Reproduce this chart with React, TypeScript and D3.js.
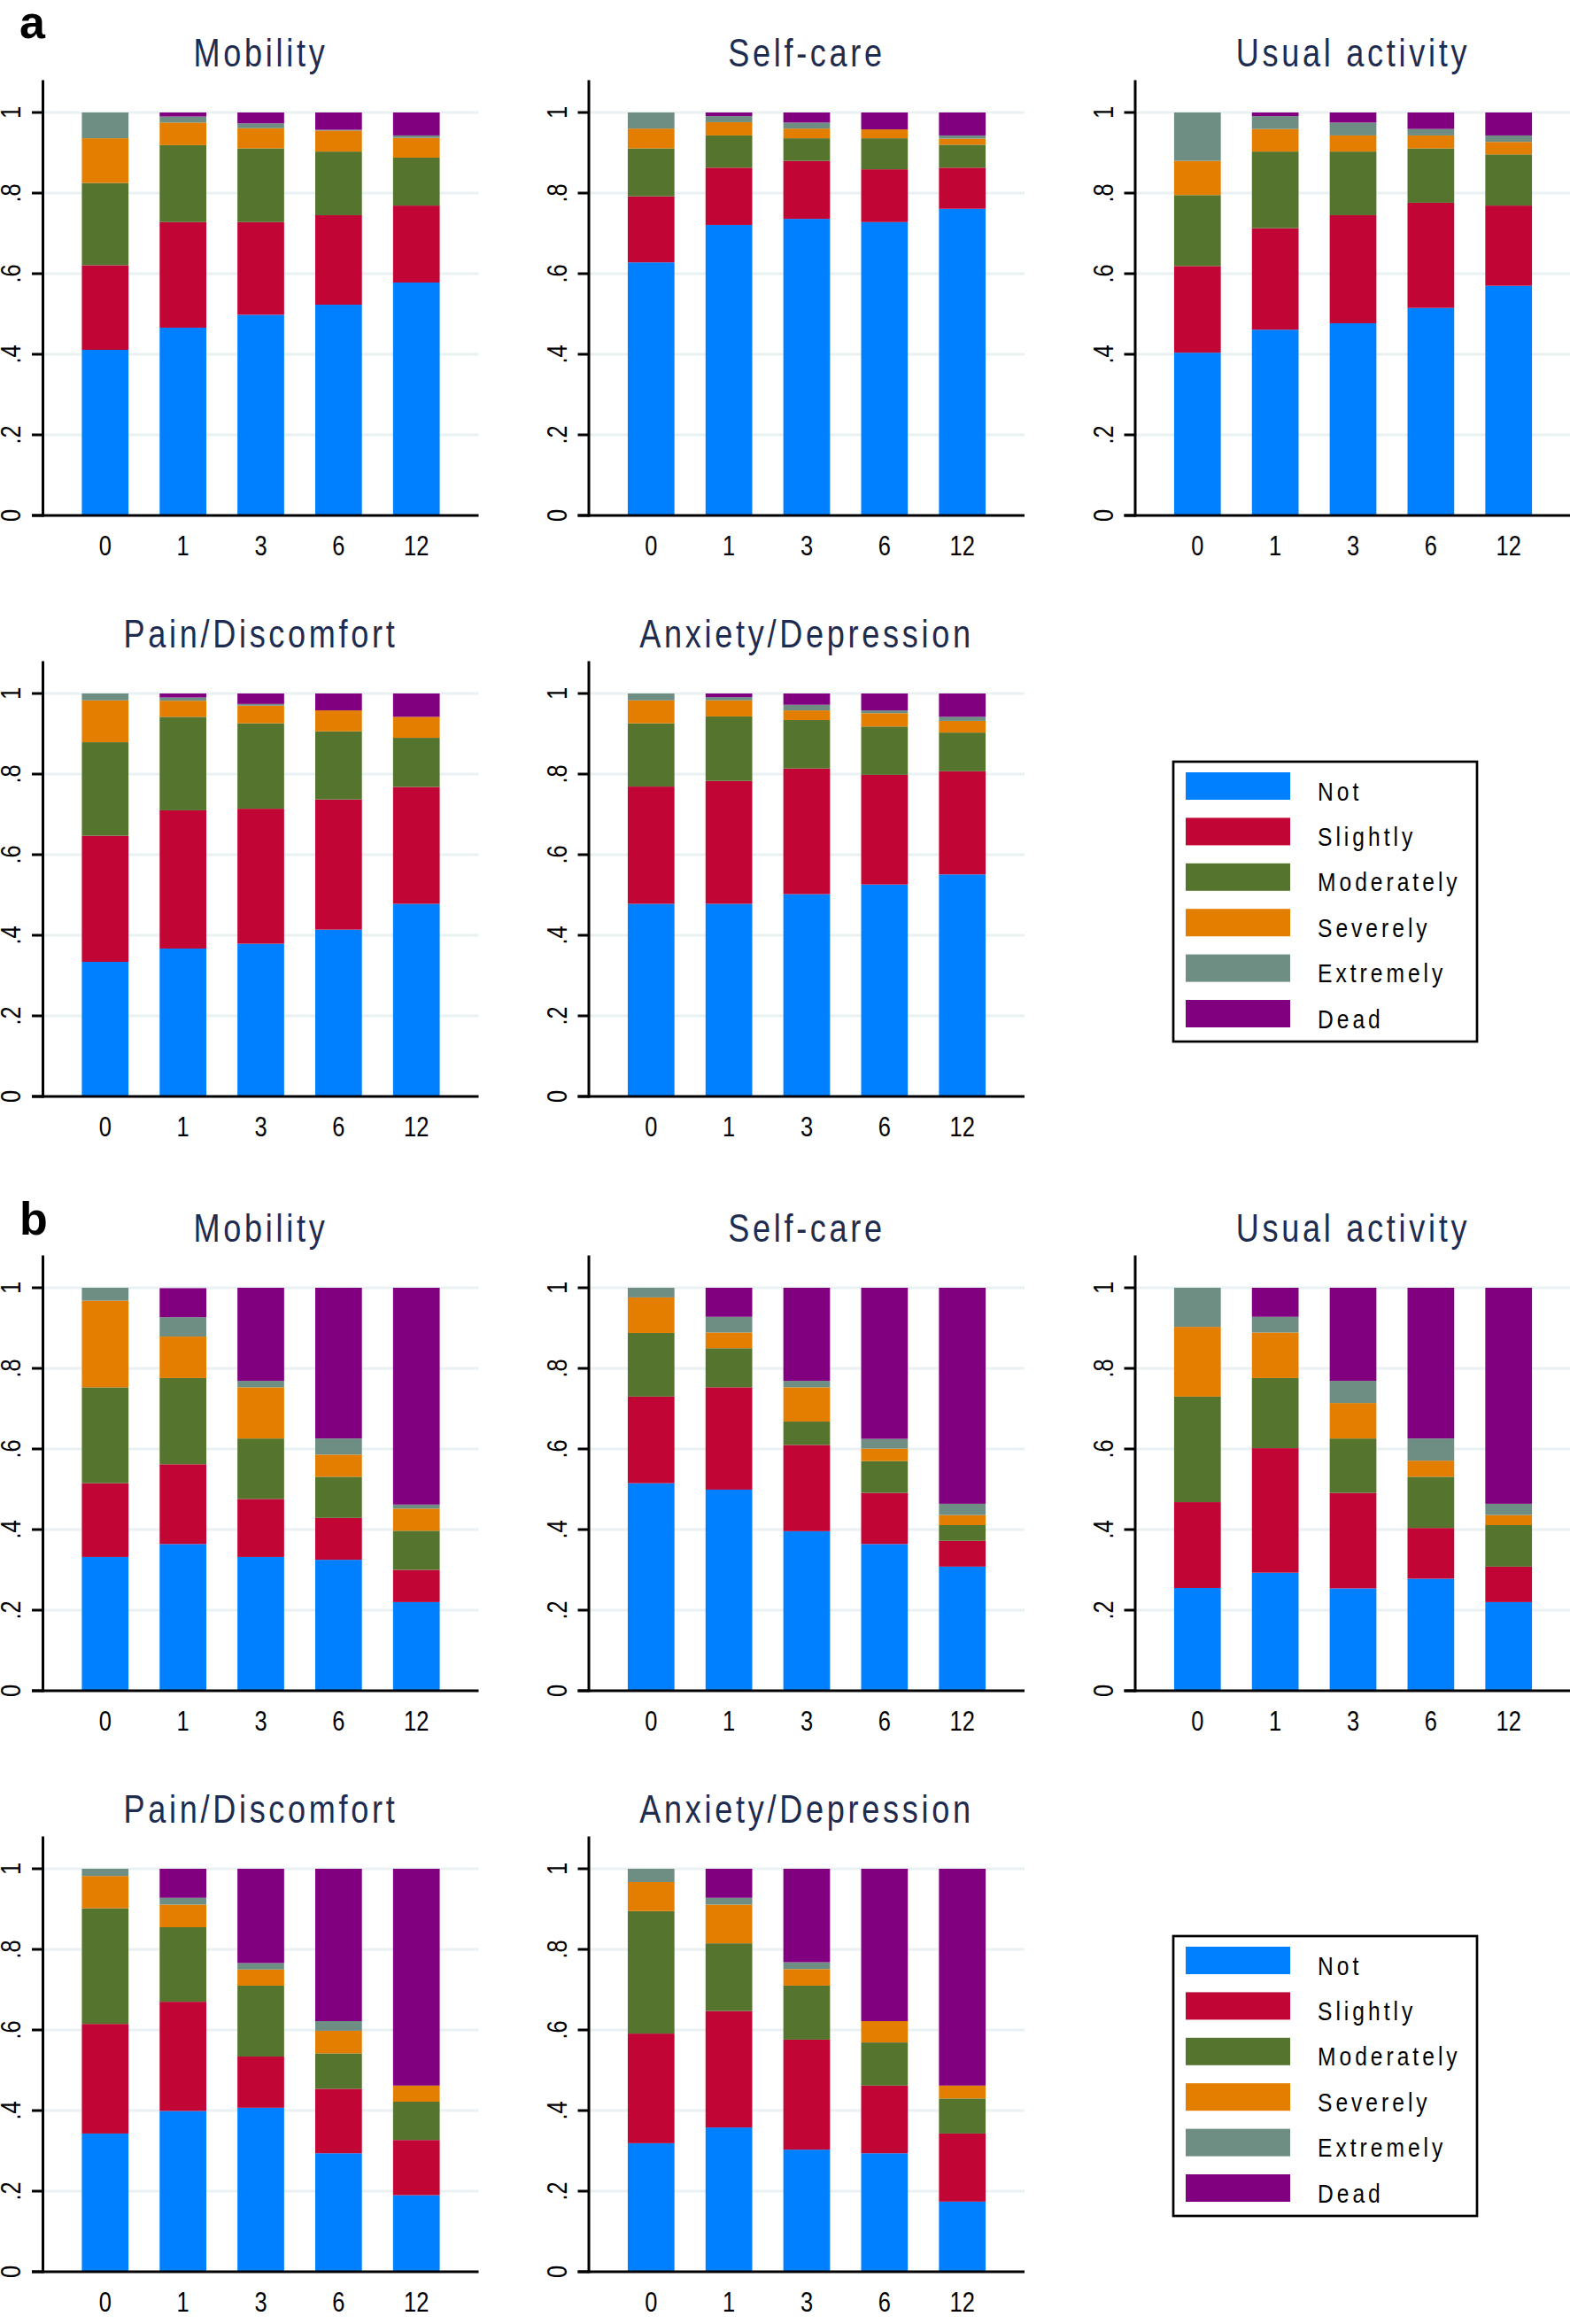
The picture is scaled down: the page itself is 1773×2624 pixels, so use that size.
import React from "react";
import * as d3 from "d3";

// ---------- data ----------
const months = ["0", "1", "3", "6", "12"];
const categories = ["Not", "Slightly", "Moderately", "Severely", "Extremely", "Dead"];
const colors = ["#0080ff", "#c10534", "#55752f", "#e37e00", "#6e8e84", "#810080"];
const yTicks = [0, 0.2, 0.4, 0.6, 0.8, 1];
const yTickLabels = ["0", ".2", ".4", ".6", ".8", "1"];
const dimensions = ["Mobility", "Self-care", "Usual activity", "Pain/Discomfort", "Anxiety/Depression"];

// rows: Not, Slightly, Moderately, Severely, Extremely, Dead ; columns: months 0,1,3,6,12
const aMobility = [
  [0.411, 0.466, 0.498, 0.523, 0.578],
  [0.210, 0.262, 0.230, 0.222, 0.191],
  [0.204, 0.191, 0.183, 0.158, 0.119],
  [0.111, 0.056, 0.050, 0.052, 0.049],
  [0.064, 0.015, 0.012, 0.002, 0.006],
  [0.000, 0.010, 0.027, 0.043, 0.057],
];
const aSelfCare = [
  [0.628, 0.721, 0.736, 0.728, 0.761],
  [0.164, 0.142, 0.144, 0.131, 0.102],
  [0.119, 0.080, 0.056, 0.077, 0.057],
  [0.049, 0.033, 0.024, 0.022, 0.015],
  [0.040, 0.015, 0.015, 0.000, 0.008],
  [0.000, 0.009, 0.025, 0.042, 0.057],
];
const aUsualActivity = [
  [0.404, 0.461, 0.477, 0.515, 0.570],
  [0.215, 0.252, 0.268, 0.261, 0.199],
  [0.176, 0.190, 0.158, 0.135, 0.127],
  [0.085, 0.056, 0.040, 0.032, 0.031],
  [0.120, 0.032, 0.032, 0.016, 0.016],
  [0.000, 0.009, 0.025, 0.041, 0.057],
];
const aPain = [
  [0.334, 0.367, 0.379, 0.414, 0.478],
  [0.313, 0.343, 0.335, 0.323, 0.290],
  [0.232, 0.232, 0.212, 0.169, 0.122],
  [0.104, 0.040, 0.044, 0.052, 0.052],
  [0.017, 0.008, 0.004, 0.000, 0.000],
  [0.000, 0.010, 0.026, 0.042, 0.058],
];
const aAnxiety = [
  [0.478, 0.478, 0.502, 0.526, 0.551],
  [0.291, 0.305, 0.312, 0.272, 0.256],
  [0.157, 0.160, 0.120, 0.120, 0.096],
  [0.057, 0.040, 0.024, 0.033, 0.029],
  [0.017, 0.008, 0.014, 0.007, 0.010],
  [0.000, 0.009, 0.028, 0.042, 0.058],
];
const bMobility = [
  [0.332, 0.364, 0.332, 0.325, 0.220],
  [0.183, 0.198, 0.144, 0.104, 0.080],
  [0.238, 0.214, 0.150, 0.102, 0.097],
  [0.215, 0.103, 0.127, 0.055, 0.055],
  [0.032, 0.048, 0.016, 0.040, 0.010],
  [0.000, 0.072, 0.231, 0.374, 0.538],
];
const bSelfCare = [
  [0.515, 0.499, 0.396, 0.364, 0.308],
  [0.215, 0.254, 0.214, 0.127, 0.064],
  [0.158, 0.097, 0.058, 0.079, 0.039],
  [0.088, 0.039, 0.085, 0.031, 0.025],
  [0.024, 0.039, 0.016, 0.024, 0.028],
  [0.000, 0.072, 0.231, 0.375, 0.536],
];
const bUsualActivity = [
  [0.255, 0.293, 0.254, 0.278, 0.220],
  [0.213, 0.309, 0.237, 0.126, 0.088],
  [0.262, 0.174, 0.135, 0.127, 0.103],
  [0.173, 0.113, 0.088, 0.040, 0.025],
  [0.097, 0.039, 0.055, 0.055, 0.028],
  [0.000, 0.072, 0.231, 0.374, 0.536],
];
const bPain = [
  [0.343, 0.399, 0.407, 0.294, 0.190],
  [0.272, 0.271, 0.127, 0.160, 0.137],
  [0.287, 0.185, 0.176, 0.088, 0.095],
  [0.080, 0.056, 0.040, 0.056, 0.040],
  [0.018, 0.017, 0.016, 0.024, 0.000],
  [0.000, 0.072, 0.234, 0.378, 0.538],
];
const bAnxiety = [
  [0.319, 0.358, 0.303, 0.294, 0.174],
  [0.272, 0.289, 0.273, 0.168, 0.169],
  [0.304, 0.168, 0.134, 0.107, 0.087],
  [0.072, 0.096, 0.041, 0.053, 0.032],
  [0.033, 0.017, 0.017, 0.000, 0.000],
  [0.000, 0.072, 0.232, 0.378, 0.538],
];

const panelsA = [aMobility, aSelfCare, aUsualActivity, aPain, aAnxiety];
const panelsB = [bMobility, bSelfCare, bUsualActivity, bPain, bAnxiety];

// ---------- layout ----------
const W = 1773;
const H = 2624;
const colX = [48.5, 665, 1282];
const plotW = 492;
const unitH = 455;
const FONT = "'Liberation Sans', Arial, Helvetica, sans-serif";
const NARROW = 0.82; // horizontal condensing to mimic a narrow sans face
const TITLE_COLOR = "#1e2c50";

function NText({ x, y, rotate = 0, anchor = "start", size, spacing = 0, fill = "#000", children }: any) {
  return (
    <text
      transform={`translate(${x},${y}) rotate(${rotate}) scale(${NARROW},1)`}
      textAnchor={anchor}
      fontFamily={FONT}
      fontSize={size}
      letterSpacing={spacing / NARROW}
      fill={fill}
    >
      {children}
    </text>
  );
}

function Panel({ data, title, x0, base }: { data: number[][]; title: string; x0: number; base: number }) {
  const x = d3.scaleBand<string>().domain(months).range([x0, x0 + plotW]).paddingInner(0.4).paddingOuter(0.5);
  const y = d3.scaleLinear().domain([0, 1]).range([base, base - unitH]);
  const records = months.map((m, j) => {
    const r: any = { month: m };
    categories.forEach((c, i) => (r[c] = data[i][j]));
    return r;
  });
  const series = d3.stack<any>().keys(categories)(records);
  return (
    <g>
      <NText x={x0 + 246} y={base - 507} anchor="middle" size={44} spacing={3.7} fill={TITLE_COLOR}>
        {title}
      </NText>
      {yTicks.slice(1).map((t) => (
        <line key={"g" + t} x1={x0} x2={x0 + plotW} y1={y(t)} y2={y(t)} stroke="#eaf1f3" strokeWidth={3} />
      ))}
      {series.map((s, i) => (
        <g key={categories[i]} fill={colors[i]}>
          {s.map((d: any) => {
            const h = y(d[0]) - y(d[1]);
            if (h <= 0) return null;
            return <rect key={d.data.month} x={x(d.data.month)} width={x.bandwidth()} y={y(d[1])} height={h} />;
          })}
        </g>
      ))}
      <line x1={x0} x2={x0} y1={base + 1.5} y2={y(1.08)} stroke="#000" strokeWidth={3} />
      <line x1={x0 - 12.5} x2={x0 + plotW} y1={base} y2={base} stroke="#000" strokeWidth={3} />
      {yTicks.map((t, i) => (
        <g key={"t" + t}>
          <line x1={x0 - 12.5} x2={x0} y1={y(t)} y2={y(t)} stroke="#000" strokeWidth={3} />
          <NText x={x0 - 25.5} y={y(t)} rotate={-90} anchor="middle" size={31}>
            {yTickLabels[i]}
          </NText>
        </g>
      ))}
      {months.map((m) => (
        <NText key={"x" + m} x={(x(m) as number) + x.bandwidth() / 2} y={base + 45} anchor="middle" size={31}>
          {m}
        </NText>
      ))}
    </g>
  );
}

function Legend({ top }: { top: number }) {
  return (
    <g>
      <rect x={1325} y={top} width={343} height={316} fill="#fff" stroke="#000" strokeWidth={2.7} />
      {categories.map((c, i) => (
        <g key={c}>
          <rect x={1339} y={top + 12 + i * 51.4} width={118} height={31} fill={colors[i]} />
          <NText x={1488} y={top + 43.5 + i * 51.4} size={30} spacing={4}>
            {c}
          </NText>
        </g>
      ))}
    </g>
  );
}

function Group({ panels, rowBases, label, labelY, legendTop }: any) {
  return (
    <g>
      <text x={22} y={labelY} fontFamily={FONT} fontWeight="bold" fontSize={52} fill="#000">
        {label}
      </text>
      {panels.map((d: number[][], k: number) => (
        <Panel key={k} data={d} title={dimensions[k]} x0={colX[k % 3]} base={rowBases[Math.floor(k / 3)]} />
      ))}
      <Legend top={legendTop} />
    </g>
  );
}

export default function App() {
  return (
    <svg
      width={W}
      height={H}
      viewBox={`0 0 ${W} ${H}`}
      style={{ position: "absolute", left: 0, top: 0, background: "#fff" }}
    >
      <rect x={0} y={0} width={W} height={H} fill="#fff" />
      <Group panels={panelsA} rowBases={[582, 1238]} label="a" labelY={43} legendTop={860} />
      <Group panels={panelsB} rowBases={[1909, 2565]} label="b" labelY={1394} legendTop={2186} />
    </svg>
  );
}
